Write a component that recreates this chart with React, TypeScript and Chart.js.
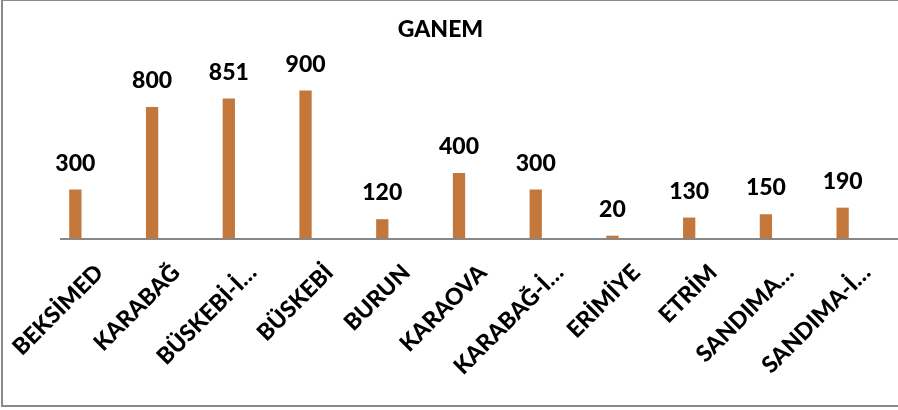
import React, { useEffect, useRef } from "react";
import { Chart, registerables } from "chart.js";

Chart.register(...registerables);

const categories = [
  "BEKSİMED",
  "KARABAĞ",
  "BÜSKEBİ-İ…",
  "BÜSKEBİ",
  "BURUN",
  "KARAOVA",
  "KARABAĞ-İ…",
  "ERİMİYE",
  "ETRİM",
  "SANDIMA…",
  "SANDIMA-İ…",
];
const values = [300, 800, 851, 900, 120, 400, 300, 20, 130, 150, 190];
const chartTitle = "GANEM";

const FONT = "Lato, 'Open Sans', sans-serif";
const BAR_COLOR = "#C4773A";

const overlayPlugin = {
  id: "overlay",
  afterDatasetsDraw(chart: any) {
    const ctx = chart.ctx;
    const area = chart.chartArea;
    ctx.save();
    // baseline
    ctx.fillStyle = "#878787";
    ctx.fillRect(60, area.bottom - 1, chart.width - 60, 2);
    // value labels
    const meta = chart.getDatasetMeta(0);
    ctx.fillStyle = "#000";
    ctx.font = `900 23px ${FONT}`;
    ctx.textAlign = "center";
    ctx.textBaseline = "alphabetic";
    meta.data.forEach((bar: any, i: number) => {
      ctx.fillText(String(values[i]), bar.x, bar.y - 19);
    });
    // title
    ctx.fillText(chartTitle, 440.5, 37.3);
    ctx.restore();
  },
};

export default function App() {
  const ref = useRef<HTMLCanvasElement | null>(null);
  useEffect(() => {
    if (!ref.current) return;
    const chart = new Chart(ref.current, {
      type: "bar",
      data: {
        labels: categories,
        datasets: [
          {
            data: values,
            backgroundColor: BAR_COLOR,
            categoryPercentage: 1,
            barPercentage: 0.16,
          },
        ],
      },
      options: {
        animation: false,
        responsive: false,
        maintainAspectRatio: false,
        layout: { padding: { left: 37, right: 17, top: 74, bottom: 0 } },
        plugins: {
          legend: { display: false },
          title: { display: false },
          tooltip: { enabled: false },
        },
        scales: {
          x: {
            grid: { display: false, drawTicks: false },
            border: { display: false },
            ticks: {
              minRotation: 45,
              maxRotation: 45,
              autoSkip: false,
              padding: 20,
              labelOffset: 24,
              color: "#000",
              font: { family: FONT, size: 23, weight: "900" },
            },
            afterFit(scale: any) {
              scale.height = 171;
              scale.paddingLeft = 0;
              scale.paddingRight = 0;
            },
          },
          y: {
            display: false,
            min: 0,
            max: 1000,
          },
        },
      },
      plugins: [overlayPlugin],
    });
    return () => chart.destroy();
  }, []);

  return (
    <div
      style={{
        position: "fixed",
        left: 0,
        top: 0,
        width: 898,
        height: 410,
        overflow: "hidden",
        background: "#fff",
      }}
    >
      <div
        style={{
          position: "absolute",
          left: 1,
          top: -1,
          width: 1000,
          height: 404,
          border: "2px solid #8a8a8a",
        }}
      />
      <canvas
        ref={ref}
        width={898}
        height={410}
        style={{ position: "absolute", left: 0, top: 0, width: 898, height: 410 }}
      />
    </div>
  );
}
